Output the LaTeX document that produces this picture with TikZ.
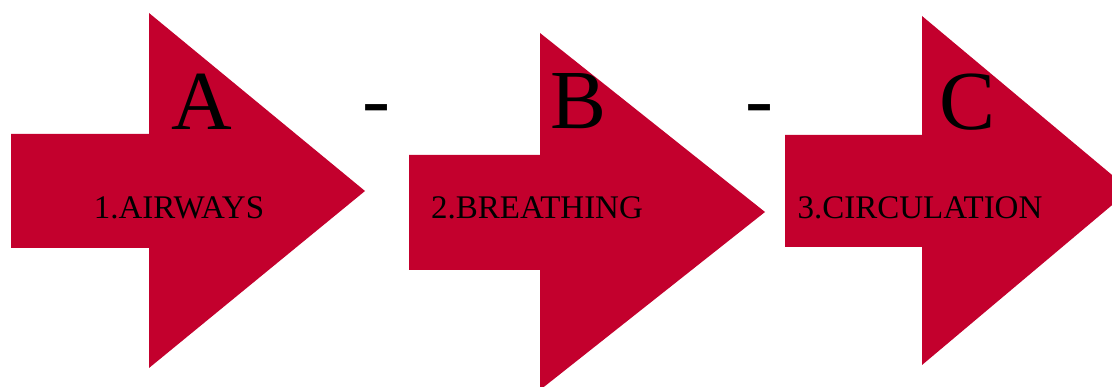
\documentclass[tikz,border=0pt]{standalone}
\usepackage{fontspec}
\setmainfont{Liberation Serif}
\definecolor{arrowred}{HTML}{C3002D}
\begin{document}
\begin{tikzpicture}[x=1pt,y=-1pt,
  bigarrow/.style={fill=arrowred,draw=none},
  letter/.style={font=\fontsize{84}{84}\selectfont,inner sep=0pt,anchor=base},
  label/.style={font=\fontsize{33}{33}\selectfont,inner sep=0pt,anchor=base},
  sep/.style={font=\fontsize{84}{84}\selectfont,inner sep=0pt,anchor=base}]
\useasboundingbox (0,0) rectangle (1112,387);
\clip (0,0) rectangle (1112,387);
% arrows
\fill[bigarrow] (11,134) -- (149,134) -- (149,13) -- (365,191) -- (149,368) -- (149,248) -- (11,248) -- cycle;
\fill[bigarrow] (409,155) -- (540,155) -- (540,33) -- (765,212) -- (540,390) -- (540,270) -- (409,270) -- cycle;
\fill[bigarrow] (785,135) -- (922,135) -- (922,16) -- (1130,190) -- (922,365) -- (922,247) -- (785,247) -- cycle;
% big letters
\node[letter] (la) at (202,130) {A};
\node[letter] (lb) at (579,129) {B};
\node[letter] (lc) at (968,130) {C};
% separators
\node[sep] (s1) at (376,128) {-};
\node[sep] (s2) at (759,128) {-};
% labels
\node[label] (ta) at (179,219) {1.AIRWAYS};
\node[label] (tb) at (537,219) {2.BREATHING};
\node[label] (tc) at (920,219) {3.CIRCULATION};
\end{tikzpicture}
\end{document}
